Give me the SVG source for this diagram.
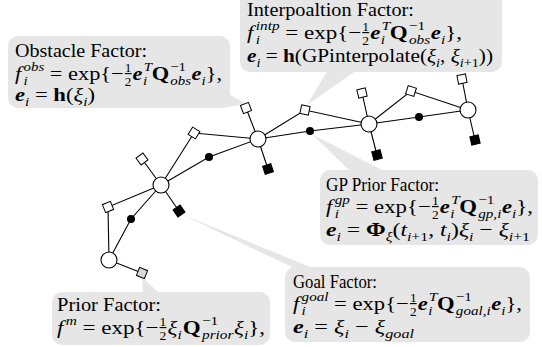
<svg xmlns="http://www.w3.org/2000/svg" width="542" height="347" viewBox="0 0 542 347">
<style>
text{font-family:"Liberation Serif","Times New Roman",serif;font-size:18px;fill:#000}
.m{font-size:19.5px}
.i{font-style:italic}
.b{font-weight:bold}
.bi{font-weight:bold;font-style:italic}
.s{font-size:13px}
.fr{font-size:11.5px}
.co{fill:#e6e6e6;stroke:none}
.edge{stroke:#000;stroke-width:1.1;fill:none}
.var{fill:#fff;stroke:#000;stroke-width:1.1}
.dot{fill:#000}
.wsq{fill:#fff;stroke:#000;stroke-width:1}
.bsq{fill:#000;stroke:#000;stroke-width:1}
.gsq{fill:#d9d9d9;stroke:#000;stroke-width:1}
</style>
<defs>
<rect id="sq" x="-4.3" y="-4.3" width="8.6" height="8.6"/>
</defs>

<g id="callout-obstacle">
<rect class="co" x="8" y="36" width="222" height="72" rx="10"/>
<polygon class="co" points="215,86 246,104 222,108"/>
<text x="15" y="57" textLength="132" lengthAdjust="spacingAndGlyphs">Obstacle Factor:</text>
<text class="m" x="15" y="80" textLength="207" lengthAdjust="spacingAndGlyphs"><tspan class="i">f</tspan><tspan class="i s" dx="2" dy="-9">obs</tspan><tspan class="i s" dx="-18" dy="14">i</tspan><tspan dx="14.4" dy="-5"> = exp{−</tspan><tspan class="fr" dx="1" dy="-8" text-decoration="underline">1</tspan><tspan class="fr" dx="-5.75" dy="14">2</tspan><tspan class="bi" dx="1" dy="-6">e</tspan><tspan class="i s" dx="1" dy="-9">T</tspan><tspan class="i s" dx="-7.2" dy="14">i</tspan><tspan class="b" dx="4" dy="-5">Q</tspan><tspan class="s" dx="1" dy="-9">−1</tspan><tspan class="i s" dx="-13.8" dy="14">obs</tspan><tspan class="bi" dx="0.5" dy="-5">e</tspan><tspan class="i s" dy="5">i</tspan><tspan dy="-5">},</tspan></text>
<text class="m" x="15" y="101" textLength="80" lengthAdjust="spacingAndGlyphs"><tspan class="bi">e</tspan><tspan class="i s" dy="5">i</tspan><tspan dy="-5"> = </tspan><tspan class="b">h</tspan><tspan>(</tspan><tspan class="i">ξ</tspan><tspan class="i s" dy="5">i</tspan><tspan dy="-5">)</tspan></text>
</g>

<g id="callout-interpolation">
<rect class="co" x="240" y="-10" width="262" height="82" rx="10"/>
<polygon class="co" points="328,70 357,70 307,105"/>
<text x="247" y="16" textLength="167" lengthAdjust="spacingAndGlyphs">Interpoaltion Factor:</text>
<text class="m" x="247" y="39" textLength="215" lengthAdjust="spacingAndGlyphs"><tspan class="i">f</tspan><tspan class="i s" dx="2" dy="-9">intp</tspan><tspan class="i s" dx="-20.2" dy="14">i</tspan><tspan dx="16.6" dy="-5"> = exp{−</tspan><tspan class="fr" dx="1" dy="-8" text-decoration="underline">1</tspan><tspan class="fr" dx="-5.75" dy="14">2</tspan><tspan class="bi" dx="1" dy="-6">e</tspan><tspan class="i s" dx="1" dy="-9">T</tspan><tspan class="i s" dx="-7.2" dy="14">i</tspan><tspan class="b" dx="4" dy="-5">Q</tspan><tspan class="s" dx="1" dy="-9">−1</tspan><tspan class="i s" dx="-13.8" dy="14">obs</tspan><tspan class="bi" dx="0.5" dy="-5">e</tspan><tspan class="i s" dy="5">i</tspan><tspan dy="-5">},</tspan></text>
<text class="m" x="247" y="62" textLength="246" lengthAdjust="spacingAndGlyphs"><tspan class="bi">e</tspan><tspan class="i s" dy="5">i</tspan><tspan dy="-5"> = </tspan><tspan class="b">h</tspan><tspan>(GPinterpolate(</tspan><tspan class="i">ξ</tspan><tspan class="i s" dy="5">i</tspan><tspan dy="-5">, </tspan><tspan class="i">ξ</tspan><tspan class="s" dy="5"><tspan class="i">i</tspan>+1</tspan><tspan dy="-5">))</tspan></text>
</g>

<g id="callout-gp-prior">
<rect class="co" x="320" y="170" width="218" height="75" rx="10"/>
<polygon class="co" points="313,135 352,173 388,173"/>
<text x="326" y="191" textLength="113" lengthAdjust="spacingAndGlyphs">GP Prior Factor:</text>
<text class="m" x="326" y="213" textLength="207" lengthAdjust="spacingAndGlyphs"><tspan class="i">f</tspan><tspan class="i s" dx="2" dy="-9">gp</tspan><tspan class="i s" dx="-13" dy="14">i</tspan><tspan dx="9.4" dy="-5"> = exp{−</tspan><tspan class="fr" dx="1" dy="-8" text-decoration="underline">1</tspan><tspan class="fr" dx="-5.75" dy="14">2</tspan><tspan class="bi" dx="1" dy="-6">e</tspan><tspan class="i s" dx="1" dy="-9">T</tspan><tspan class="i s" dx="-7.2" dy="14">i</tspan><tspan class="b" dx="4" dy="-5">Q</tspan><tspan class="s" dx="1" dy="-9">−1</tspan><tspan class="i s" dx="-13.8" dy="14">gp,i</tspan><tspan class="bi" dx="0.5" dy="-5">e</tspan><tspan class="i s" dy="5">i</tspan><tspan dy="-5">},</tspan></text>
<text class="m" x="326" y="236" textLength="204" lengthAdjust="spacingAndGlyphs"><tspan class="bi">e</tspan><tspan class="i s" dy="5">i</tspan><tspan dy="-5"> = </tspan><tspan class="b">Φ</tspan><tspan class="i s" dy="5">ξ</tspan><tspan dy="-5">(</tspan><tspan class="i">t</tspan><tspan class="s" dy="5"><tspan class="i">i</tspan>+1</tspan><tspan dy="-5">, </tspan><tspan class="i">t</tspan><tspan class="i s" dy="5">i</tspan><tspan dy="-5">)</tspan><tspan class="i">ξ</tspan><tspan class="i s" dy="5">i</tspan><tspan dy="-5"> − </tspan><tspan class="i">ξ</tspan><tspan class="s" dy="5"><tspan class="i">i</tspan>+1</tspan></text>
</g>

<g id="callout-goal">
<rect class="co" x="285" y="267" width="245" height="75" rx="10"/>
<polygon class="co" points="181,214 298,270 315,269"/>
<text x="293" y="288" textLength="84" lengthAdjust="spacingAndGlyphs">Goal Factor:</text>
<text class="m" x="293" y="310" textLength="229" lengthAdjust="spacingAndGlyphs"><tspan class="i">f</tspan><tspan class="i s" dx="2" dy="-9">goal</tspan><tspan class="i s" dx="-23.1" dy="14">i</tspan><tspan dx="19.5" dy="-5"> = exp{−</tspan><tspan class="fr" dx="1" dy="-8" text-decoration="underline">1</tspan><tspan class="fr" dx="-5.75" dy="14">2</tspan><tspan class="bi" dx="1" dy="-6">e</tspan><tspan class="i s" dx="1" dy="-9">T</tspan><tspan class="i s" dx="-7.2" dy="14">i</tspan><tspan class="b" dx="4" dy="-5">Q</tspan><tspan class="s" dx="1" dy="-9">−1</tspan><tspan class="i s" dx="-13.8" dy="14">goal,i</tspan><tspan class="bi" dx="0.5" dy="-5">e</tspan><tspan class="i s" dy="5">i</tspan><tspan dy="-5">},</tspan></text>
<text class="m" x="293" y="333" textLength="121" lengthAdjust="spacingAndGlyphs"><tspan class="bi">e</tspan><tspan class="i s" dy="5">i</tspan><tspan dy="-5"> = </tspan><tspan class="i">ξ</tspan><tspan class="i s" dy="5">i</tspan><tspan dy="-5"> − </tspan><tspan class="i">ξ</tspan><tspan class="i s" dy="5">goal</tspan></text>
</g>

<g id="callout-prior">
<rect class="co" x="52" y="292" width="218" height="53" rx="10"/>
<polygon class="co" points="142,277 143,294 160,294"/>
<text x="57" y="311" textLength="104" lengthAdjust="spacingAndGlyphs">Prior Factor:</text>
<text class="m" x="57" y="334" textLength="208" lengthAdjust="spacingAndGlyphs"><tspan class="i">f</tspan><tspan class="i s" dx="2" dy="-9">m</tspan><tspan dy="9"> = exp{−</tspan><tspan class="fr" dx="1" dy="-8" text-decoration="underline">1</tspan><tspan class="fr" dx="-5.75" dy="14">2</tspan><tspan class="i" dx="1" dy="-6">ξ</tspan><tspan class="i s" dy="5">i</tspan><tspan class="b" dx="1" dy="-5">Q</tspan><tspan class="s" dx="1" dy="-9">−1</tspan><tspan class="i s" dx="-13.8" dy="14">prior</tspan><tspan class="i" dx="0.5" dy="-5">ξ</tspan><tspan class="i s" dy="5">i</tspan><tspan dy="-5">},</tspan></text>
</g>

<g id="connectors" class="edge">
<path d="M109,260 L131,219 L161,185"/>
<path d="M161,185 L209,157 L258,139"/>
<path d="M258,139 L310,131 L369,124"/>
<path d="M369,124 L419,117 L468,110"/>
<path d="M109,260 L108,207 L161,185"/>
<path d="M161,185 L194,133 L258,139"/>
<path d="M258,139 L305,110 L369,124"/>
<path d="M369,124 L411,91 L468,110"/>
<path d="M161,185 L142,159"/>
<path d="M258,139 L246,108"/>
<path d="M369,124 L362,93"/>
<path d="M468,110 L462,79"/>
<path d="M161,185 L179,211"/>
<path d="M258,139 L268,169"/>
<path d="M369,124 L377,155"/>
<path d="M468,110 L475,140"/>
<path d="M109,260 L142,273"/>
</g>

<g id="var-0"><circle class="var" cx="109" cy="260" r="8"/></g>
<g id="var-1"><circle class="var" cx="161" cy="185" r="8"/></g>
<g id="var-2"><circle class="var" cx="258" cy="139" r="8"/></g>
<g id="var-3"><circle class="var" cx="369" cy="124" r="8"/></g>
<g id="var-4"><circle class="var" cx="468" cy="110" r="8"/></g>

<g id="gp-0"><circle class="dot" cx="131" cy="219" r="4"/></g>
<g id="gp-1"><circle class="dot" cx="209" cy="157" r="4"/></g>
<g id="gp-2"><circle class="dot" cx="310" cy="131" r="4"/></g>
<g id="gp-3"><circle class="dot" cx="419" cy="117" r="4"/></g>

<g id="interp-0"><use href="#sq" class="wsq" transform="translate(108,207) rotate(-22)"/></g>
<g id="interp-1"><use href="#sq" class="wsq" transform="translate(194,133) rotate(32)"/></g>
<g id="interp-2"><use href="#sq" class="wsq" transform="translate(305,110) rotate(12)"/></g>
<g id="interp-3"><use href="#sq" class="wsq" transform="translate(411,91) rotate(18)"/></g>

<g id="obs-1"><use href="#sq" class="wsq" transform="translate(142,159) rotate(54)"/></g>
<g id="obs-2"><use href="#sq" class="wsq" transform="translate(246,108) rotate(69)"/></g>
<g id="obs-3"><use href="#sq" class="wsq" transform="translate(362,93) rotate(77)"/></g>
<g id="obs-4"><use href="#sq" class="wsq" transform="translate(462,79) rotate(79)"/></g>

<g id="goal-1"><use href="#sq" class="bsq" transform="translate(179,211) rotate(55)"/></g>
<g id="goal-2"><use href="#sq" class="bsq" transform="translate(268,169) rotate(72)"/></g>
<g id="goal-3"><use href="#sq" class="bsq" transform="translate(377,155) rotate(75)"/></g>
<g id="goal-4"><use href="#sq" class="bsq" transform="translate(475,140) rotate(77)"/></g>

<g id="prior-0"><use href="#sq" class="gsq" transform="translate(142,273) rotate(22)"/></g>
</svg>
